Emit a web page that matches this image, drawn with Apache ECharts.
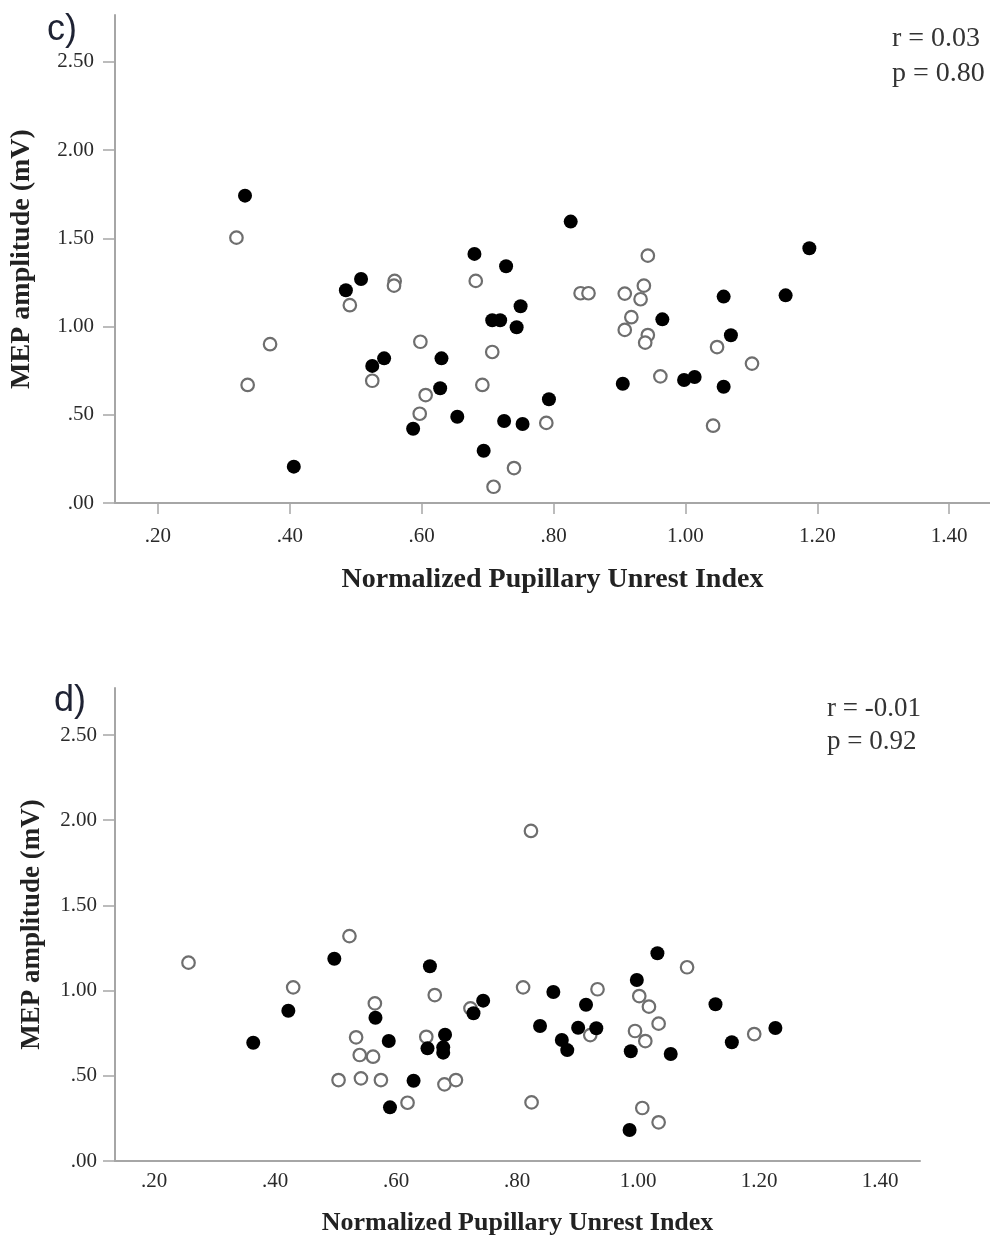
<!DOCTYPE html>
<html>
<head>
<meta charset="utf-8">
<script src="https://cdn.jsdelivr.net/npm/echarts@6/dist/echarts.min.js"></script>
<style>
html,body{margin:0;padding:0;background:#fff;}
#chart{width:990px;height:1239px;}
</style>
</head>
<body>
<div id="chart"></div>
<script>
// ---- Data ----
var xTicks = [0.2, 0.4, 0.6, 0.8, 1.0, 1.2, 1.4];
var yTicks = [0, 0.5, 1.0, 1.5, 2.0, 2.5];

// Panel c: filled circles [NPUI, MEP]
var cFilled = [
  [0.332,1.742],[0.680,1.412],[0.728,1.342],[0.508,1.270],[0.485,1.206],[0.750,1.115],
  [0.707,1.036],[0.719,1.036],[0.744,0.996],[0.543,0.820],[0.525,0.777],[0.630,0.820],
  [0.628,0.650],[0.793,0.588],[0.654,0.489],[0.587,0.421],[0.725,0.465],[0.753,0.448],
  [0.694,0.296],[0.406,0.206],[0.826,1.595],[1.188,1.444],[1.058,1.170],[1.152,1.177],
  [0.965,1.041],[1.069,0.951],[0.905,0.676],[0.998,0.697],[1.014,0.714],[1.058,0.659]
];
// Panel c: open circles
var cOpen = [
  [0.319,1.504],[0.559,1.259],[0.558,1.232],[0.682,1.259],[0.491,1.121],[0.370,0.900],
  [0.598,0.914],[0.707,0.856],[0.336,0.669],[0.525,0.693],[0.692,0.669],[0.606,0.612],
  [0.597,0.506],[0.789,0.454],[0.740,0.198],[0.709,0.092],[0.943,1.402],[0.841,1.189],
  [0.853,1.189],[0.908,1.187],[0.937,1.232],[0.932,1.155],[0.918,1.053],[0.908,0.981],
  [0.943,0.952],[0.939,0.909],[1.048,0.884],[1.101,0.790],[0.962,0.718],[1.042,0.438]
];
// Panel d: filled circles
var dFilled = [
  [0.498,1.187],[0.422,0.882],[0.364,0.694],[0.656,1.143],[0.566,0.841],[0.744,0.941],
  [0.728,0.867],[0.588,0.704],[0.681,0.741],[0.652,0.661],[0.678,0.667],[0.678,0.636],
  [0.629,0.471],[0.590,0.315],[0.860,0.992],[0.914,0.917],[0.838,0.792],[0.901,0.782],
  [0.931,0.779],[0.874,0.710],[0.883,0.651],[1.032,1.219],[0.998,1.062],[1.128,0.920],
  [1.227,0.781],[1.155,0.697],[0.988,0.644],[1.054,0.628],[0.986,0.182]
];
// Panel d: open circles
var dOpen = [
  [0.523,1.320],[0.430,1.019],[0.565,0.925],[0.664,0.974],[0.723,0.896],[0.534,0.726],
  [0.650,0.729],[0.540,0.622],[0.562,0.612],[0.505,0.475],[0.542,0.485],[0.575,0.475],
  [0.680,0.450],[0.699,0.475],[0.619,0.342],[0.810,1.019],[0.933,1.008],[0.921,0.739],
  [0.824,0.344],[0.823,1.937],[0.257,1.164],[1.081,1.137],[1.002,0.968],[1.018,0.906],
  [1.034,0.806],[0.995,0.763],[1.012,0.704],[1.192,0.745],[1.007,0.311],[1.034,0.227]
];

var statsC = ['r = 0.03', 'p = 0.80'];
var statsD = ['r = -0.01', 'p = 0.92'];
var xTitle = 'Normalized Pupillary Unrest Index';
var yTitle = 'MEP amplitude (mV)';

// ---- Chart ----
var serif = '"Liberation Serif", "Times New Roman", serif';
function fmt(v){ return v.toFixed(2).replace(/^0/, ''); }
var axisCol = '#a6a6a6';

function xAxisDef(grid, min, max, showTicks, margin, nameGap, nameSize){
  return {
    type:'value', gridIndex:grid, min:min, max:max,
    name:xTitle, nameLocation:'middle', nameGap:nameGap,
    nameTextStyle:{fontFamily:serif, fontWeight:'bold', fontSize:nameSize, color:'#222'},
    axisLine:{show:true, onZero:false, lineStyle:{color:axisCol, width:2}},
    axisTick:{show:showTicks, length:11, customValues:xTicks, lineStyle:{color:axisCol, width:1.5}},
    axisLabel:{customValues:xTicks, formatter:fmt, margin:margin,
      fontFamily:serif, fontSize:21, color:'#2a2a2a'},
    splitLine:{show:false}
  };
}
function yAxisDef(grid, max, margin, nameGap, nameSize){
  return {
    type:'value', gridIndex:grid, min:0, max:max,
    name:yTitle, nameLocation:'middle', nameGap:nameGap, nameRotate:90,
    nameTextStyle:{fontFamily:serif, fontWeight:'bold', fontSize:nameSize, color:'#222'},
    axisLine:{show:true, onZero:false, lineStyle:{color:axisCol, width:2}},
    axisTick:{show:true, length:12, customValues:yTicks, lineStyle:{color:axisCol, width:1.5}},
    axisLabel:{customValues:yTicks, formatter:fmt, margin:margin,
      fontFamily:serif, fontSize:21, color:'#2a2a2a'},
    splitLine:{show:false}
  };
}

var openStyle = {color:'#fff', borderColor:'#6e6e6e', borderWidth:2.2, opacity:1};
var fillStyle = {color:'#000', opacity:1};

var chart = echarts.init(document.getElementById('chart'), null, {renderer:'canvas'});
chart.setOption({
  backgroundColor:'#fff',
  animation:false,
  grid:[
    {left:114, top:15, width:876, height:488},
    {left:115, top:688, width:805, height:473}
  ],
  xAxis:[
    xAxisDef(0, 0.1348, 1.462, true, 23, 63, 28),
    xAxisDef(1, 0.1355, 1.466, false, 10, 49, 26)
  ],
  yAxis:[
    yAxisDef(0, 2.766, 21, 79, 28),
    yAxisDef(1, 2.776, 18, 69, 27)
  ],
  series:[
    {type:'scatter', xAxisIndex:0, yAxisIndex:0, data:cOpen, symbolSize:12.5, itemStyle:openStyle},
    {type:'scatter', xAxisIndex:0, yAxisIndex:0, data:cFilled, symbolSize:14, itemStyle:fillStyle},
    {type:'scatter', xAxisIndex:1, yAxisIndex:1, data:dOpen, symbolSize:12.5, itemStyle:openStyle},
    {type:'scatter', xAxisIndex:1, yAxisIndex:1, data:dFilled, symbolSize:14, itemStyle:fillStyle}
  ],
  graphic:[
    {type:'text', left:47, top:12, style:{text:'c)', font:'36px "Liberation Sans", sans-serif', fill:'#1e2233'}},
    {type:'text', left:54, top:683, style:{text:'d)', font:'36px "Liberation Sans", sans-serif', fill:'#1e2233'}},
    {type:'text', left:892, top:21, style:{text:statsC.join('\n'), font:'28px ' + serif, fill:'#333', lineHeight:35}},
    {type:'text', left:827, top:692, style:{text:statsD.join('\n'), font:'27px ' + serif, fill:'#333', lineHeight:33}}
  ]
});
</script>
</body>
</html>
